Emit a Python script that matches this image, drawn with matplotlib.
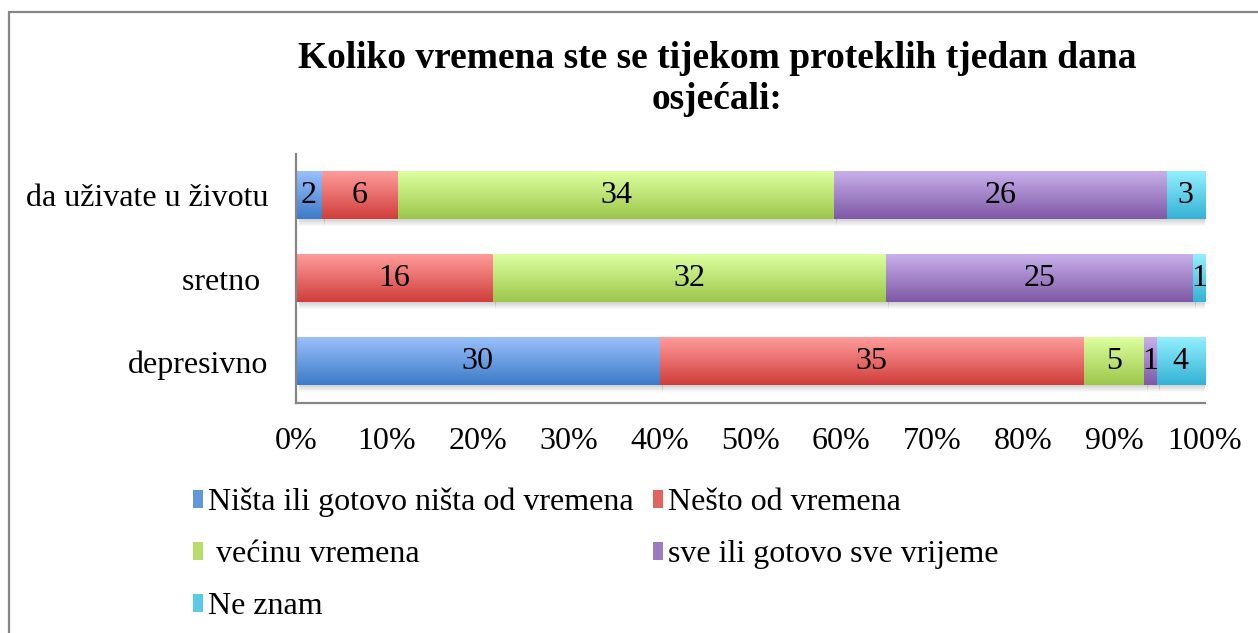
import numpy as np
import matplotlib
matplotlib.use("Agg")
import matplotlib.pyplot as plt
from matplotlib.colors import LinearSegmentedColormap, to_rgb
from matplotlib.patches import Rectangle, Patch

plt.rcParams["font.family"] = ["Liberation Serif", "DejaVu Serif"]

title = "Koliko vremena ste se tijekom proteklih tjedan dana\nosjećali:"
categories = ["da uživate u životu", "sretno ", "depresivno"]
series_names = [
    "Ništa ili gotovo ništa od vremena",
    "Nešto od vremena",
    " većinu vremena",
    "sve ili gotovo sve vrijeme",
    "Ne znam",
]
# counts per category (same order as categories)
nista = [2, 0, 30]
nesto = [6, 16, 35]
vecinu = [34, 32, 5]
sve = [26, 25, 1]
ne_znam = [3, 1, 4]
x_ticks = [0, 10, 20, 30, 40, 50, 60, 70, 80, 90, 100]

# gradient (top colour, bottom colour) per series
grad_colors = [
    ("#9AC0FA", "#3C7BC8"),
    ("#FF9C9B", "#CF3E3B"),
    ("#DDFFA0", "#9CC74A"),
    ("#C8AFEA", "#7E59A6"),
    ("#93EFFF", "#34B2D5"),
]

FS = 23

counts = np.array([nista, nesto, vecinu, sve, ne_znam], dtype=float)
pct = counts / counts.sum(axis=0) * 100
ypos = np.arange(len(categories))[::-1]
bar_h = 0.57

fig = plt.figure(figsize=(12.58, 6.33), dpi=100)
ax = fig.add_axes([296 / 1258, 1 - 403 / 633, 909 / 1258, 249 / 633])

# chart frame (only left/top edges visible in the picture)
fig.patches.append(Rectangle((9 / 1258, -0.2), 1.2, 1.2 - 12 / 633,
                             transform=fig.transFigure, fill=False,
                             edgecolor="#868686", linewidth=1.6, clip_on=False))

shadow = np.zeros((8, 2, 4))
shadow[..., :3] = 0.45
shadow[..., 3] = np.linspace(0.35, 0.0, 8)[:, None]

left = np.zeros(len(categories))
for i, name in enumerate(series_names):
    top, bot = grad_colors[i]
    cmap = LinearSegmentedColormap.from_list(f"g{i}", [bot, top])
    grad = np.linspace(1, 0, 64)[:, None]
    bars = ax.barh(ypos, pct[i], left=left, height=bar_h, color="none",
                   linewidth=0, label=name, zorder=2)
    for b, val, y0, l0, w in zip(bars, counts[i], ypos, left, pct[i]):
        if w <= 0:
            continue
        ax.imshow(grad, extent=[l0, l0 + w, y0 - bar_h / 2, y0 + bar_h / 2],
                  aspect="auto", cmap=cmap, vmin=0, vmax=1, zorder=2,
                  interpolation="bilinear")
        ax.imshow(shadow, extent=[l0 + 0.3, l0 + w + 0.3, y0 - bar_h / 2 - 0.1,
                                  y0 - bar_h / 2],
                  aspect="auto", zorder=1, interpolation="bilinear")
        ax.text(l0 + w / 2, y0, f"{int(val)}", ha="center", va="center",
                fontsize=FS, color="black", zorder=4)
    left = left + pct[i]

ax.set_xlim(0, 100)
ax.set_ylim(-0.5, 2.5)
ax.set_xticks(x_ticks)
ax.set_xticklabels([f"{t}%" for t in x_ticks])
ax.set_yticks(ypos)
ax.set_yticklabels(categories)
ax.tick_params(axis="both", length=0, labelsize=FS)
ax.tick_params(axis="x", pad=17)
ax.tick_params(axis="y", pad=20)
for s in ["top", "right"]:
    ax.spines[s].set_visible(False)
for s in ["left", "bottom"]:
    ax.spines[s].set_color("#868686")
    ax.spines[s].set_linewidth(1.6)

fig.text(717 / 1258, 1 - 79 / 633, title, ha="center", va="center",
         fontsize=27, fontweight="bold", linespacing=1.2)


def mid(c1, c2):
    a, b = np.array(to_rgb(c1)), np.array(to_rgb(c2))
    return tuple(0.4 * a + 0.6 * b)


leg_handles = [Patch(facecolor=mid(*grad_colors[i]), edgecolor="none") for i in range(5)]
order = [0, 2, 4, 1, 3]
fig.legend([leg_handles[k] for k in order], [series_names[k] for k in order],
           loc="upper left", bbox_to_anchor=(177 / 1258, 1 - 472 / 633),
           ncol=2, frameon=False, fontsize=FS, handlelength=0.32,
           handleheight=0.5, handletextpad=0.15, columnspacing=0.6,
           labelspacing=0.72, borderpad=0)

fig.savefig("out.png", dpi=100)
